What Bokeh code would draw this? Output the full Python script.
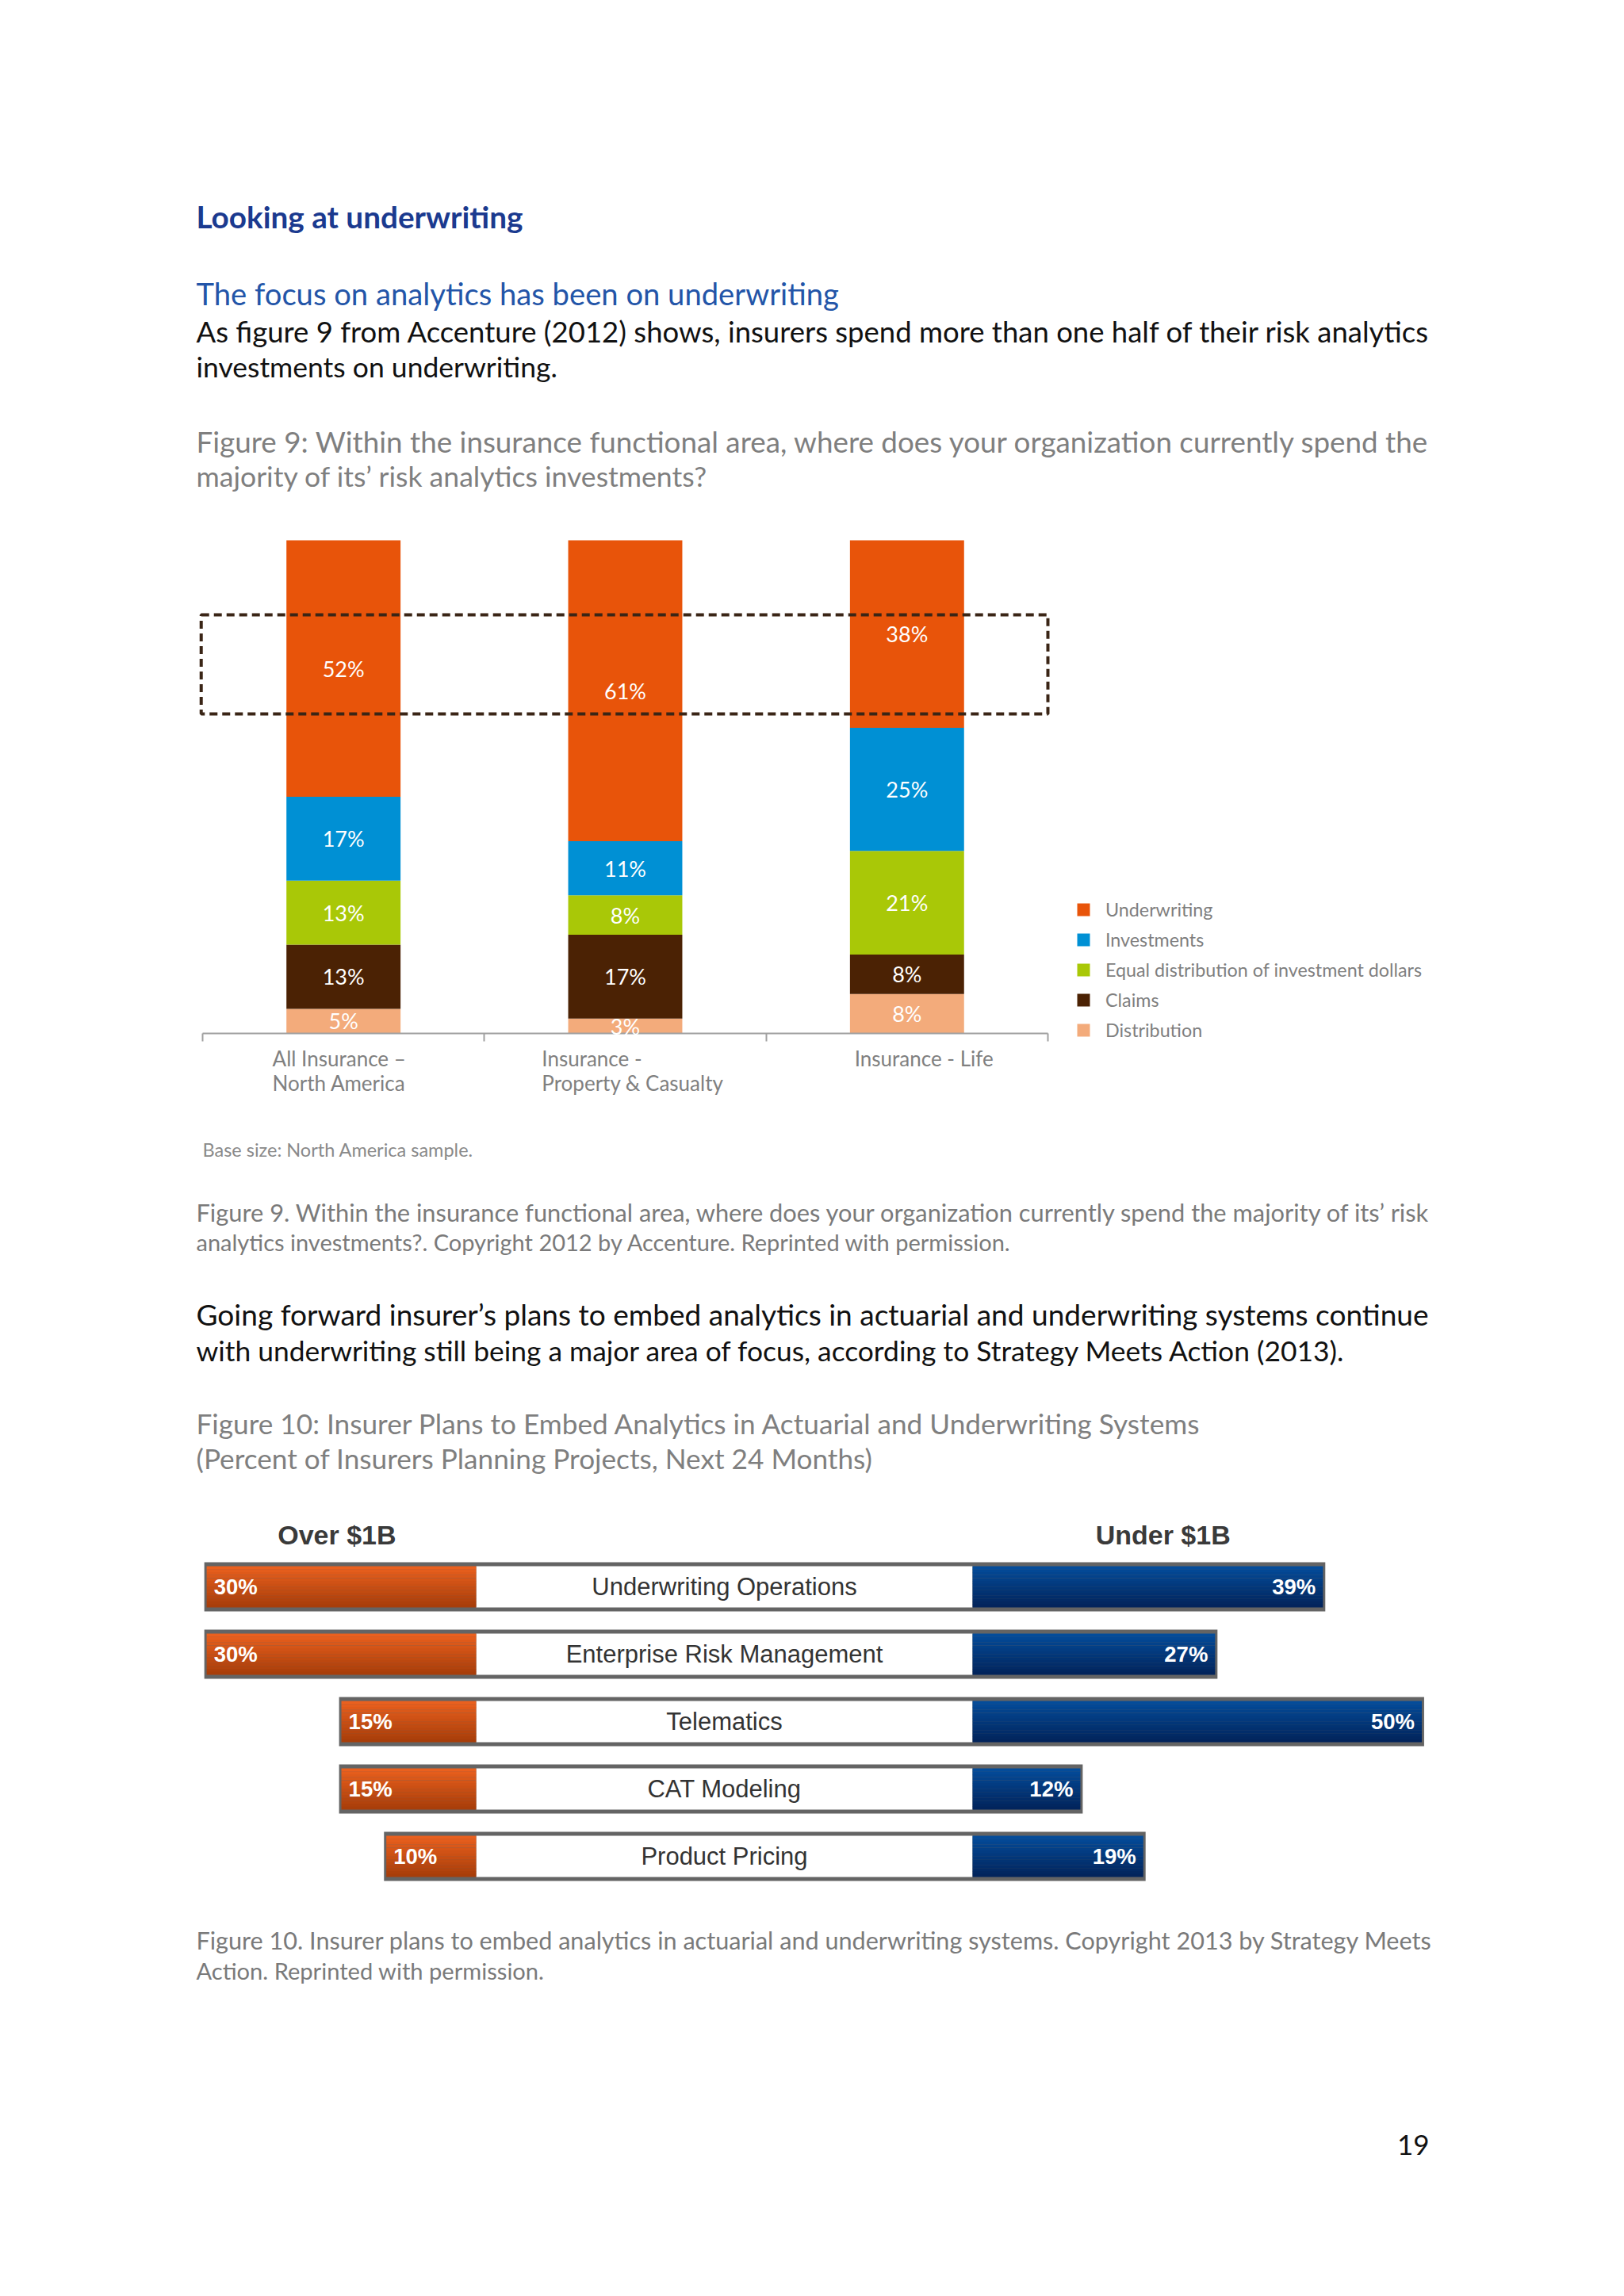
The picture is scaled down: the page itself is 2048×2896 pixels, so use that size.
import numpy as np
from bokeh.plotting import figure
from bokeh.layouts import column
from bokeh.models import (Range1d, ColumnDataSource, LinearAxis, FixedTicker,
                          Legend, LegendItem, BoxAnnotation)
from bokeh.core.properties import value
from bokeh.embed import file_html
from bokeh.resources import INLINE

# ---------------- page text ----------------
heading = "Looking at underwriting"
subheading = "The focus on analytics has been on underwriting"
body1 = ["As figure 9 from Accenture (2012) shows, insurers spend more than one half of their risk analytics",
         "investments on underwriting."]
fig9_title = ["Figure 9: Within the insurance functional area, where does your organization currently spend the",
              "majority of its\u2019 risk analytics investments?"]
fig9_note = "Base size: North America sample."
fig9_caption = ["Figure 9. Within the insurance functional area, where does your organization currently spend the majority of its\u2019 risk",
                "analytics investments?. Copyright 2012 by Accenture. Reprinted with permission."]
body2 = ["Going forward insurer\u2019s plans to embed analytics in actuarial and underwriting systems continue",
         "with underwriting still being a major area of focus, according to Strategy Meets Action (2013)."]
fig10_title = ["Figure 10: Insurer Plans to Embed Analytics in Actuarial and Underwriting Systems",
               "(Percent of Insurers Planning Projects, Next 24 Months)"]
fig10_caption = ["Figure 10. Insurer plans to embed analytics in actuarial and underwriting systems. Copyright 2013 by Strategy Meets",
                 "Action. Reprinted with permission."]
page_number = "19"

# ---------------- figure 9 data ----------------
f9_categories = ["All Insurance \u2013\nNorth America", "Insurance -\nProperty & Casualty", "Insurance - Life"]
f9_series = ["Underwriting", "Investments", "Equal distribution of investment dollars", "Claims", "Distribution"]
f9_underwriting = [52, 61, 38]
f9_investments = [17, 11, 25]
f9_equal = [13, 8, 21]
f9_claims = [13, 17, 8]
f9_distribution = [5, 3, 8]
f9_colors = ["#E8540A", "#0090D4", "#A9C807", "#4B2204", "#F3AB7B"]

# ---------------- figure 10 data ----------------
f10_projects = ["Underwriting Operations", "Enterprise Risk Management", "Telematics", "CAT Modeling", "Product Pricing"]
f10_over_1b = [30, 30, 15, 15, 10]
f10_under_1b = [39, 27, 50, 12, 19]
f10_groups = ["Over $1B", "Under $1B"]

PAGE_W = 2032
BODY = "Lato"


def text_fig(h):
    p = figure(width=PAGE_W, height=h, x_range=Range1d(0, PAGE_W), y_range=Range1d(h, 0),
               x_axis_type=None, y_axis_type=None, output_backend="svg",
               toolbar_location=None, min_border=0)
    p.outline_line_color = None
    p.background_fill_color = "white"
    p.border_fill_color = "white"
    return p


def put(p, x, y, txt, size, color, font=BODY, style="normal", align="left"):
    p.text(x=[x], y=[y], text=[txt], text_font=value(font), text_font_size=f"{size}px",
           text_color=color, text_font_style=style, text_align=align,
           text_baseline="alphabetic")


LX = 247
BLACK = "#111111"
GRAY = "#7F7F7F"
CAP = "#7A7A7A"

# ---------------- top text ----------------
top = text_fig(660)
put(top, LX, 272, heading, 38.7, "#1B3A8F", style="bold")
put(top, LX, 369, subheading, 38.2, "#2355A8")
put(top, LX, 417, body1[0], 36.5, BLACK)
put(top, LX, 462, body1[1], 35.5, BLACK)
put(top, LX, 556, fig9_title[0], 36.8, GRAY)
put(top, LX, 600, fig9_title[1], 35.6, GRAY)

# ---------------- figure 9 chart ----------------
p1 = figure(width=PAGE_W, height=760, x_range=Range1d(-0.71765, 5.0010), y_range=Range1d(-4.34, 103.38),
            x_axis_type=None, y_axis_type=None, output_backend="svg", toolbar_location=None,
            min_border_left=0, min_border_right=0, min_border_top=0, min_border_bottom=90)
p1.outline_line_color = None
p1.background_fill_color = "white"
p1.border_fill_color = "white"

x_pos = [0.5, 1.5, 2.5]
stack_keys = ["Distribution", "Claims", "Equal", "Investments", "Underwriting"]
src = ColumnDataSource(dict(x=x_pos, Distribution=f9_distribution, Claims=f9_claims,
                            Equal=f9_equal, Investments=f9_investments, Underwriting=f9_underwriting))
stack_colors = [f9_colors[4], f9_colors[3], f9_colors[2], f9_colors[1], f9_colors[0]]

rends = p1.vbar_stack(stack_keys, x="x", width=0.405, color=stack_colors, source=src, line_width=0)

vals = np.array([f9_distribution, f9_claims, f9_equal, f9_investments, f9_underwriting], dtype=float)
mids = np.cumsum(vals, axis=0) - vals / 2
lx, ly, lt = [], [], []
for s in range(vals.shape[0]):
    for c in range(vals.shape[1]):
        lx.append(x_pos[c]); ly.append(mids[s, c]); lt.append(f"{int(vals[s, c])}%")
p1.text(x=lx, y=ly, text=lt, text_font=value(BODY), text_font_size="27px", text_color="white",
        text_align="center", text_baseline="middle", level="annotation")

# dashed highlight box around the underwriting shares (drawn over the bars)
box = BoxAnnotation(left=-0.005, right=3.0, bottom=64.8, top=84.9, fill_alpha=0,
                    line_color="#3A2516", line_alpha=1.0, line_width=4, line_dash="10 6",
                    level="annotation")
p1.add_layout(box)

ax = LinearAxis(ticker=FixedTicker(ticks=[0, 1, 2, 3]), bounds=(0, 3), fixed_location=0,
                major_label_overrides={0: "", 1: "", 2: "", 3: ""},
                major_label_text_color=None,
                major_tick_out=10, major_tick_in=0, minor_tick_out=0, minor_tick_in=0,
                axis_line_color="#A0A0A0", axis_line_width=2,
                major_tick_line_color="#A0A0A0", major_tick_line_width=2)
p1.add_layout(ax, "below")

# category labels under the axis (left-aligned blocks)
f9_label_x = [0.248, 1.204, 2.314]
p1.text(x=f9_label_x, y=[-2.55] * 3, text=f9_categories, text_font=value(BODY),
        text_font_size="26px", text_color="#808080", text_align="left", text_baseline="top",
        text_line_height=0.97, level="overlay")

legend = Legend(items=[LegendItem(label=f9_series[k], renderers=[rends[4 - k]]) for k in range(5)],
                location=(1356, 17), glyph_width=20, glyph_height=20, label_height=20,
                label_text_font=BODY, label_text_font_size="23.3px", label_text_color="#7F7F7F",
                label_standoff=18, spacing=10, padding=0, margin=0,
                border_line_color=None, background_fill_alpha=0)
p1.add_layout(legend)

# ---------------- middle text ----------------
mid = text_fig(470)
put(mid, 255, 29, fig9_note, 23.5, "#8A8A8A")
put(mid, LX, 109, fig9_caption[0], 30.8, CAP)
put(mid, LX, 146, fig9_caption[1], 29, CAP)
put(mid, LX, 237, body2[0], 37.05, BLACK)
put(mid, LX, 283, body2[1], 35.4, BLACK)
put(mid, LX, 374, fig10_title[0], 35.2, GRAY)
put(mid, LX, 418, fig10_title[1], 35.2, GRAY)

# ---------------- figure 10 chart ----------------
W = 55.25  # width of the label cell, in percent units
p2 = figure(width=PAGE_W, height=510, x_range=Range1d(-52.957, 126.39), y_range=Range1d(4.694, -1.306),
            x_axis_type=None, y_axis_type=None, output_backend="svg", toolbar_location=None, min_border=0)
p2.outline_line_color = None
p2.background_fill_color = "white"
p2.border_fill_color = "white"

n = len(f10_projects)
rows = np.arange(n)
over = np.array(f10_over_1b, dtype=float)
under = np.array(f10_under_1b, dtype=float)
pad = 0.26
p2.quad(left=-over - pad, right=W + under + pad, top=rows - 0.365, bottom=rows + 0.365,
        fill_color="#646464", line_color=None)
p2.quad(left=np.zeros(n), right=np.full(n, W), top=rows - 0.305, bottom=rows + 0.305,
        fill_color="white", line_color=None)


def grad(c0, c1, t):
    a = np.array(c0); b = np.array(c1)
    c = (a + (b - a) * t).astype(int)
    return "#%02x%02x%02x" % tuple(c)


NS = 14
h = 0.61
ql, qr, qt, qb, qc = [], [], [], [], []
for i in range(n):
    for k in range(NS):
        y0 = rows[i] - h / 2 + k * h / NS
        y1 = y0 + h / NS + 0.002
        t = k / (NS - 1)
        ql.append(-over[i]); qr.append(0.0); qt.append(y0); qb.append(y1)
        qc.append(grad((234, 96, 30), (168, 62, 10), t))
        ql.append(W); qr.append(W + under[i]); qt.append(y0); qb.append(y1)
        qc.append(grad((4, 76, 154), (2, 36, 92), t))
p2.quad(left=ql, right=qr, top=qt, bottom=qb, fill_color=qc, line_color=None)

p2.text(x=np.full(n, W / 2), y=rows, text=f10_projects, text_font=value("Liberation Sans"),
        text_font_size="31px", text_color="#333333", text_align="center", text_baseline="middle")
p2.text(x=-over + 0.8, y=rows, text=[f"{int(v)}%" for v in over], text_font=value("Liberation Sans"),
        text_font_size="27.5px", text_font_style="bold", text_color="white",
        text_align="left", text_baseline="middle")
p2.text(x=W + under - 0.8, y=rows, text=[f"{int(v)}%" for v in under], text_font=value("Liberation Sans"),
        text_font_size="27.5px", text_font_style="bold", text_color="white",
        text_align="right", text_baseline="middle")
p2.text(x=[-15.5, W + 21.2], y=[-0.765, -0.765], text=f10_groups, text_font=value("Liberation Sans"),
        text_font_size="34px", text_font_style="bold", text_color="#3A3A3A",
        text_align="center", text_baseline="alphabetic")

# ---------------- bottom text ----------------
bot = text_fig(480)
put(bot, LX, 47, fig10_caption[0], 30.6, CAP)
put(bot, LX, 85, fig10_caption[1], 29.1, CAP)
put(bot, 1802, 305, page_number, 35, BLACK, align="right")

layout = column(top, p1, mid, p2, bot, spacing=0)
open("out.html", "w").write(file_html(layout, INLINE))
